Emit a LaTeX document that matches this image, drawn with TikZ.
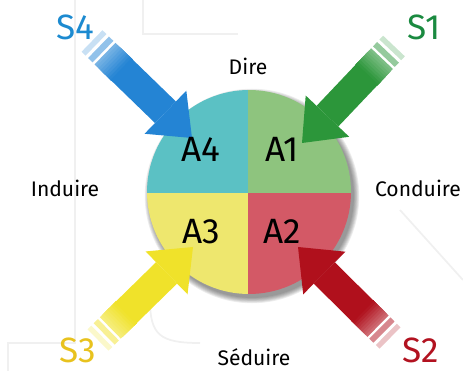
\documentclass[tikz,border=0pt]{standalone}
\usepackage{fontspec}
\setmainfont{Fira Sans}
\usetikzlibrary{arrows.meta,calc}
\definecolor{tealpart}{RGB}{91, 193, 196}
\definecolor{greenpart}{RGB}{142, 196, 126}
\definecolor{yellowpart}{RGB}{238, 231, 110}
\definecolor{redpart}{RGB}{211, 89, 102}
\definecolor{bluearrow}{RGB}{36, 132, 212}
\definecolor{greenarrow}{RGB}{44, 150, 58}
\definecolor{yellowarrow}{RGB}{240, 226, 42}
\definecolor{redarrow}{RGB}{176, 16, 28}
\definecolor{bluetext}{RGB}{28, 138, 208}
\definecolor{greentext}{RGB}{26, 138, 64}
\definecolor{goldtext}{RGB}{232, 194, 30}
\definecolor{redtext}{RGB}{178, 18, 32}

\begin{document}
\begin{tikzpicture}[x=0.02cm,y=-0.02cm,
    word/.style={font=\fontsize{12}{14}\selectfont,anchor=base},
    quad/.style={font=\fontsize{20}{24}\selectfont,anchor=base},
    side/.style={font=\fontsize{20}{24}\selectfont,anchor=base,inner sep=0pt},
    fat/.style={line width=0.6cm},
    bgline/.style={black!6,line width=1pt}]
        \useasboundingbox (0,0) rectangle (463,371);
        % faint lines in the back
        \draw[bgline] (75,0) -- (75,343) -- (8,343) -- (8,371);
        \draw[bgline] (143,0) -- (143,34) -- (238,34);
        \draw[bgline] (150,300) .. controls (150,335) and (160,343) .. (200,343);
        \draw[bgline] (400,210) -- (463,280);
        % soft shadow under the disc
        \coordinate (mid) at (249,192);
        \coordinate (cut) at (248,193);
        \foreach \r in {6,...,0}
            \fill[black,opacity=0.07] ($(mid)+(3,4)$) circle[radius=2.04cm+\r*0.5pt];
        % four quarters of the disc
        \begin{scope}
            \clip (mid) circle[radius=2.04cm];
            \fill[tealpart] (cut) rectangle (140,80);
            \fill[greenpart] (cut) rectangle (360,80);
            \fill[yellowpart] (cut) rectangle (140,300);
            \fill[redpart] (cut) rectangle (360,300);
        \end{scope}
        % arrow ends
        \coordinate (s1-tail) at (394,46);
        \coordinate (s1-tip) at (302,143);
        \coordinate (s2-tail) at (390,338);
        \coordinate (s2-tip) at (298,247);
        \coordinate (s3-tail) at (98,340);
        \coordinate (s3-tip) at (193,247);
        \coordinate (s4-tail) at (92,41);
        \coordinate (s4-tip) at (192,138);
        % the four fat arrows with faded tails
        \foreach \s/\col in {s1/greenarrow,s2/redarrow,s3/yellowarrow,s4/bluearrow}{
            \draw[fat,\col!25] ($(\s-tail)!0!(\s-tip)$) -- ($(\s-tail)!0.04!(\s-tip)$);
            \draw[fat,\col!50] ($(\s-tail)!0.065!(\s-tip)$) -- ($(\s-tail)!0.11!(\s-tip)$);
            \foreach \k in {0,...,7}{
                \pgfmathsetmacro\pa{0.13+0.02*\k}
                \pgfmathtruncatemacro\mix{62+5*\k}
                \draw[fat,\col!\mix] ($(\s-tail)!\pa!(\s-tip)$) -- ($(\s-tail)!0.3!(\s-tip)$);
            }
            \draw[fat,\col,-{Triangle[width=1.2cm,length=0.74cm,line width=0pt]}]
                ($(\s-tail)!0.29!(\s-tip)$) -- (\s-tip);
        }
        % quarter labels
        \node[quad] (a4) at (201,162) {A4};
        \node[quad] (a1) at (282,162) {A1};
        \node[quad] (a3) at (201,243) {A3};
        \node[quad] (a2) at (282,243) {A2};
        % words round the disc
        \node[word] (dire) at (248,75) {Dire};
        \node[word] (induire) at (65,197) {Induire};
        \node[word] (conduire) at (418,197) {Conduire};
        \node[word] (seduire) at (254,365) {Séduire};
        % corner labels
        \node[side,text=bluetext] (s4) at (75,40) {S4};
        \node[side,text=greentext] (s1) at (424,40) {S1};
        \node[side,text=goldtext] (s3) at (78,362) {S3};
        \node[side,text=redtext] (s2) at (421,362) {S2};
    \end{tikzpicture}
\end{document}
